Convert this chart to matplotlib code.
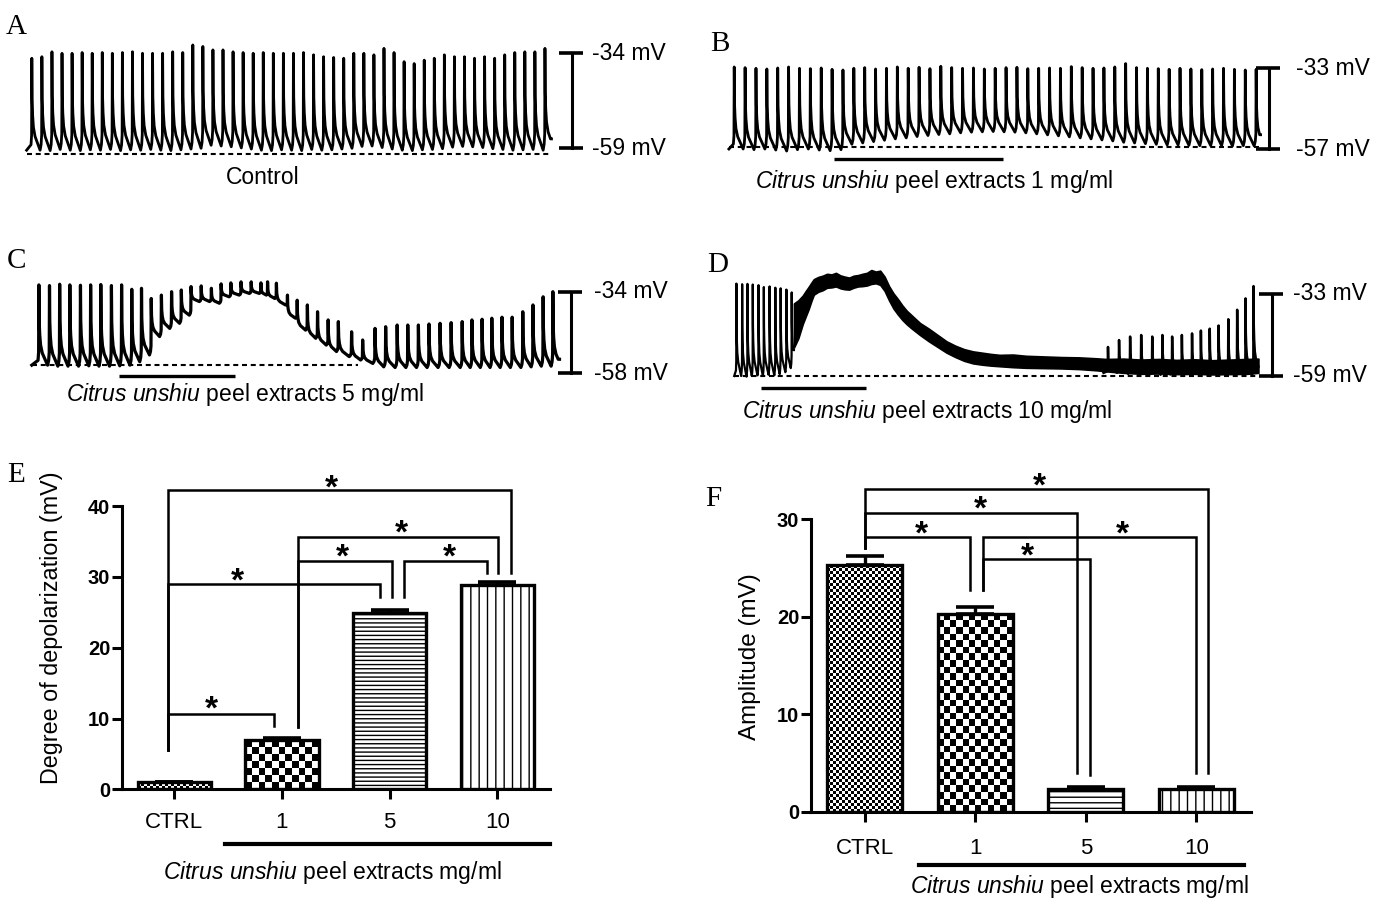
import numpy as np
import matplotlib
matplotlib.use('Agg')
import matplotlib.pyplot as plt
import matplotlib.transforms as mtransforms
from matplotlib.lines import Line2D

plt.rcParams['font.family'] = ['Liberation Sans', 'DejaVu Sans']
plt.rcParams['mathtext.fontset'] = 'custom'
plt.rcParams['mathtext.rm'] = 'Liberation Sans'
plt.rcParams['mathtext.it'] = 'Liberation Sans:italic'
plt.rcParams['hatch.linewidth'] = 1.0

# ---------------- trace data (mV) ----------------
# A: control, one value per spike (spikes evenly spaced)
a_peaks = [-35.3, -34.9, -33.6, -34.0, -34.0, -33.8, -34.0, -33.8, -34.0, -33.8,
           -33.6, -34.0, -34.0, -34.0, -33.6, -33.8, -31.8, -32.2, -33.1, -33.1,
           -33.6, -33.8, -34.0, -33.8, -34.0, -34.0, -34.0, -33.8, -34.4, -34.9,
           -35.1, -35.3, -34.0, -34.0, -34.4, -32.7, -33.8, -36.2, -36.7, -35.8,
           -35.3, -34.4, -34.9, -34.9, -35.3, -34.9, -35.3, -34.4, -33.8, -33.6,
           -33.6, -32.7]
a_troughs = [-59.5, -59.6, -59.3, -59.5, -59.6, -59.4, -59.5, -59.3, -59.6, -59.4,
             -59.5, -59.3, -59.5, -59.6, -59.4, -59.2, -59.0, -58.2, -58.4, -58.6,
             -58.9, -59.2, -59.5, -59.6, -59.4, -59.5, -59.6, -59.3, -59.5, -59.4,
             -59.2, -59.0, -58.5, -58.4, -58.8, -59.2, -59.5, -59.6, -59.4, -59.3,
             -59.1, -58.7, -58.5, -58.6, -58.8, -59.1, -59.3, -59.5, -59.4, -59.3,
             -59.5, -58.6]
a_base = -60.5

# B: 1 mg/ml
b_peaks = [-32.6, -32.8, -33.0, -33.2, -32.9, -32.6, -33.0, -33.1, -32.9, -33.3,
           -33.5, -33.0, -32.8, -33.2, -33.0, -32.6, -33.0, -32.7, -33.1, -32.4,
           -32.8, -33.0, -32.9, -33.2, -33.0, -32.8, -32.7, -33.1, -33.0, -32.9,
           -33.0, -32.5, -32.8, -33.0, -32.9, -32.6, -31.6, -32.8, -33.0, -33.1,
           -33.3, -33.0, -33.2, -33.4, -33.2, -33.0, -33.3, -33.5, -33.3]
b_troughs = [-57.0, -57.2, -57.0, -57.3, -57.6, -57.2, -57.0, -57.3, -57.5, -57.2,
             -55.6, -55.2, -54.8, -54.4, -54.0, -53.7, -53.3, -53.0, -52.7, -52.5,
             -52.2, -52.0, -51.9, -51.8, -51.9, -52.0, -52.2, -52.5, -52.8, -53.1,
             -53.4, -53.7, -54.0, -54.3, -54.6, -55.0, -55.2, -55.4, -55.6, -55.8,
             -55.8, -55.9, -56.0, -56.0, -56.0, -56.1, -56.0, -56.1, -56.2]
b_base = -56.55
b_drug = (9.2, 24.7)

# C: 5 mg/ml (time in s)
c_times = [1.6, 4.0, 6.3, 8.6, 11.0, 13.3, 15.6, 18.0, 20.3, 22.6,
           24.8, 27.0, 29.3, 31.6, 33.8, 36.0, 38.3, 40.6, 42.8, 45.0,
           47.3, 49.6, 51.8, 53.3, 55.3, 57.8, 60.0, 62.3, 64.6, 67.0,
           69.3, 72.3, 74.8, 77.6, 80.0, 82.6, 85.0, 87.4, 89.8, 92.3,
           94.8, 97.3, 99.5, 101.8, 104.0, 106.3, 108.6, 111.0, 113.3, 115.6,
           117.8]
c_peaks = [-32.0, -32.2, -31.8, -32.0, -32.1, -32.0, -31.9, -32.2, -32.0, -33.3,
           -33.0, -36.0, -35.0, -34.0, -33.5, -32.5, -32.3, -33.0, -31.7, -31.4,
           -31.1, -31.1, -31.4, -31.1, -31.5, -35.0, -36.5, -37.9, -39.9, -42.3,
           -42.8, -45.8, -48.2, -44.8, -44.3, -43.8, -43.8, -43.8, -43.5, -43.3,
           -43.1, -42.8, -42.3, -42.1, -41.8, -41.5, -41.5, -39.9, -37.9, -35.5,
           -34.0]
c_troughs = [-55.6, -55.9, -55.9, -55.9, -55.8, -55.9, -55.9, -55.8, -55.6, -54.6,
             -52.6, -47.2, -44.8, -43.3, -40.9, -36.9, -36.9, -37.4, -35.5, -35.0,
             -34.5, -34.5, -35.0, -36.0, -37.9, -41.8, -45.3, -47.7, -49.7, -51.6,
             -53.1, -54.1, -55.1, -56.1, -56.3, -56.3, -56.3, -56.3, -56.3, -56.3,
             -56.3, -56.3, -56.3, -56.3, -56.3, -56.3, -56.3, -56.1, -55.9, -55.9,
             -55.6]
c_end = 119.3
c_base = -55.56
c_base_end = 73.7
c_drug = (19.8, 46.0)

# D: 10 mg/ml (time in s)
d_early_times = [0.5, 1.8, 3.0, 4.2, 5.5, 6.7, 8.0, 9.3, 10.5, 11.8, 13.0]
d_early_peaks = [-29.7, -29.9, -29.8, -30.0, -30.2, -30.8, -30.6, -31.0, -31.2, -31.6, -32.5]
d_early_troughs = [-59.0, -59.2, -59.0, -58.8, -59.0, -58.6, -58.8, -58.4, -57.8, -56.5, -54.0]
d_band_t = [13.5, 14.5, 15.5, 16.2, 16.8, 17.5, 18.0, 19.0, 20.0, 21.0,
            22.0, 23.0, 24.0, 25.0, 26.0, 27.0, 28.0, 29.0, 30.0, 31.0,
            32.0, 33.0, 34.0, 35.0, 36.0, 37.0, 38.0, 39.0, 40.0, 42.0,
            44.0, 46.0, 48.0, 50.0, 52.0, 54.0, 56.0, 58.0, 60.0, 63.0,
            66.0, 70.0, 74.0, 78.0, 82.0, 84.0, 88.0, 92.0, 96.0, 100.0,
            104.0, 108.0, 112.0, 116.0, 118.5]
d_band_hi = [-36.0, -35.0, -33.5, -32.0, -30.8, -29.3, -28.3, -27.6, -27.2, -26.6,
             -26.8, -26.3, -27.1, -27.5, -27.8, -27.2, -27.0, -26.6, -26.3, -25.4,
             -25.9, -25.6, -27.5, -30.5, -32.8, -34.6, -36.6, -38.3, -39.6, -42.2,
             -44.0, -46.0, -48.0, -49.4, -50.5, -51.2, -51.6, -52.0, -52.3, -52.2,
             -52.6, -52.8, -53.0, -53.1, -53.4, -53.6, -53.5, -53.8, -53.6, -53.9,
             -53.7, -54.0, -53.8, -53.6, -53.5]
d_band_lo = [-50.0, -47.0, -42.5, -40.0, -37.9, -35.0, -33.2, -32.3, -31.8, -31.0,
             -30.9, -30.6, -31.2, -31.5, -31.6, -31.0, -30.6, -30.5, -30.3, -29.8,
             -29.6, -30.1, -32.0, -35.0, -37.6, -39.5, -41.2, -42.6, -43.8, -46.0,
             -48.0, -49.8, -51.6, -53.0, -54.2, -55.0, -55.4, -55.7, -55.9, -56.2,
             -56.4, -56.5, -56.6, -56.8, -57.2, -57.5, -58.0, -58.3, -58.2, -58.4,
             -58.3, -58.5, -58.4, -58.3, -58.0]
d_late_times = [84.5, 87.0, 89.5, 92.0, 94.5, 96.8, 99.0, 101.2, 103.5, 105.5,
                107.5, 109.5, 111.7, 113.7, 115.6, 117.4]
d_late_peaks = [-49.8, -47.6, -46.5, -46.0, -46.5, -46.0, -46.5, -46.0, -45.5, -44.6,
                -44.0, -43.0, -41.0, -38.0, -34.4, -30.5]
d_late_troughs = [-58.0, -58.3, -58.5, -58.4, -58.6, -58.5, -58.3, -58.6, -58.5, -58.4,
                  -58.6, -58.5, -58.7, -58.5, -58.6, -58.2]
d_end = 118.5
d_base = -58.9
d_drug = (6.0, 29.8)

# ---------------- bar data ----------------
groups = ['CTRL', '1', '5', '10']
depol_mean = [1.0, 6.9, 24.85, 28.85]
depol_sem = [0.05, 0.4, 0.55, 0.4]
amp_mean = [25.3, 20.3, 2.3, 2.3]
amp_sem = [0.9, 0.75, 0.2, 0.2]

# significance brackets: x_left, x_right, y, left drop, right drop, star x, star y
e_brackets = [(-0.06, 3.13, 42.3, 5.55, 30.5, 1.46, 43.9),
              (-0.06, 1.91, 28.97, 5.55, 27.2, 0.59, 30.75),
              (-0.06, 0.93, 10.64, 5.55, 8.94, 0.35, 12.6),
              (1.146, 3.01, 35.6, 8.85, 30.5, 2.11, 37.5),
              (1.146, 2.026, 32.26, 8.85, 27.2, 1.56, 34.05),
              (2.13, 2.906, 32.26, 27.2, 30.5, 2.56, 34.05)]
f_brackets = [(0.0, 3.104, 33.12, 27.03, 3.93, 1.58, 34.38),
              (0.0, 1.918, 30.62, 27.03, 3.93, 1.05, 31.99),
              (0.0, 0.949, 28.22, 27.03, 22.75, 0.51, 29.42),
              (1.066, 3.0, 28.22, 22.75, 3.93, 2.33, 29.42),
              (1.066, 2.035, 25.9, 22.75, 3.76, 1.47, 27.2)]

W, H = 1380, 909
TXT = 16.5
fig = plt.figure(figsize=(W / 100, H / 100), dpi=100)


def box(x0, x1, ytop, ybot):
    return [x0 / W, 1 - ybot / H, (x1 - x0) / W, (ybot - ytop) / H]


def ftext(x, y, s, **kw):
    return fig.text(x / W, 1 - y / H, s, **kw)


# shape of one action potential: (fraction of cycle, fraction of height)
PRE = [(-0.08, 0.06), (-0.025, 0.16)]
POST = [(0.03, 0.55), (0.08, 0.38), (0.16, 0.25), (0.32, 0.15), (0.55, 0.08), (0.82, 0.0)]


def spike_line(times, peaks, troughs, t_start, t_end):
    times = np.asarray(times, float)
    gaps = np.diff(times)
    before = np.concatenate([[gaps[0]], gaps])
    after = np.concatenate([gaps, [gaps[-1]]])
    xs, ys = [t_start], [troughs[0]]
    prev = troughs[0]
    for t, p, f, gb, ga in zip(times, peaks, troughs, before, after):
        for ph, fr in PRE:
            xs.append(t + ph * gb)
            ys.append(prev + fr * (p - prev))
        xs.append(t)
        ys.append(p)
        for ph, fr in POST:
            xs.append(t + ph * ga)
            ys.append(f + fr * (p - f))
        prev = f
    xs, ys = np.array(xs), np.array(ys)
    keep = (xs >= t_start) & (xs <= t_end)
    xs, ys = xs[keep], ys[keep]
    if xs[-1] < t_end:
        xs = np.append(xs, t_end)
        ys = np.append(ys, ys[-1])
    return xs, ys


def trace_axes(bx, xlim, ylim, bar_x, lab_x, base, base_to=None, drug=None, drug_y=None):
    ax = fig.add_axes(box(*bx))
    ax.set_xlim(*xlim)
    ax.set_ylim(*ylim)
    ax.set_axis_off()
    ax.plot([xlim[0], base_to if base_to is not None else xlim[1]], [base, base],
            color='black', lw=1.5, dashes=(2.4, 1.8), clip_on=False)
    tr = mtransforms.blended_transform_factory(fig.transFigure, ax.transData)
    ax.plot([bar_x / W] * 2, [ylim[0], ylim[1]], color='black', lw=2.2,
            transform=tr, clip_on=False)
    for v in ylim:
        ax.plot([(bar_x - 13) / W, (bar_x + 11) / W], [v, v], color='black',
                lw=2.6, transform=tr, clip_on=False, solid_capstyle='butt')
        ax.text(lab_x / W, v, f'{v:d} mV', transform=tr, ha='left', va='center',
                fontsize=TXT)
    if drug is not None:
        tr2 = mtransforms.blended_transform_factory(ax.transData, fig.transFigure)
        ax.plot(list(drug), [1 - drug_y / H] * 2, color='black', lw=2.4,
                transform=tr2, clip_on=False, solid_capstyle='butt')
    return ax


# ---- A ----
ax = trace_axes((26.6, 551.5, 53.3, 148.3), (-0.52, 51.65), (-59, -34), 571.7, 592, a_base)
x, y = spike_line(np.arange(len(a_peaks)), a_peaks, a_troughs, -0.52, 51.65)
ax.plot(x, y, color='black', lw=2.0, clip_on=False)

# ---- B ----
ax = trace_axes((728.9, 1260.6, 68.3, 149), (-0.49, 48.41), (-57, -33), 1269.4, 1296, b_base,
                drug=b_drug, drug_y=158.8)
x, y = spike_line(np.arange(len(b_peaks)), b_peaks, b_troughs, -0.49, 48.41)
ax.plot(x, y, color='black', lw=2.0, clip_on=False)

# ---- C ----
ax = trace_axes((31.8, 559.5, 291.7, 373.3), (0, c_end), (-58, -34), 570.6, 594, c_base,
                base_to=c_base_end, drug=c_drug, drug_y=375.7)
x, y = spike_line(c_times, c_peaks, c_troughs, 0, c_end)
ax.plot(x, y, color='black', lw=2.3, clip_on=False)

# ---- D ----
ax = trace_axes((734.2, 1258.4, 294, 376), (0, d_end), (-59, -33), 1271.7, 1293, d_base,
                drug=d_drug, drug_y=388)
x, y = spike_line(d_early_times, d_early_peaks, d_early_troughs, 0, d_band_t[0])
ax.plot(x, y, color='black', lw=1.6, clip_on=False)
ax.fill_between(d_band_t, d_band_lo, d_band_hi, color='black', lw=1.2, clip_on=False)
x, y = spike_line(d_late_times, d_late_peaks, d_late_troughs, d_late_times[0] - 1.0, d_end)
ax.plot(x, y, color='black', lw=1.8, clip_on=False)

# trace captions
ftext(263, 178, 'Control', ha='center', va='center', fontsize=TXT)
ftext(934, 181.5, r'$\mathit{Citrus\ unshiu}$ peel extracts 1 mg/ml', ha='center', va='center', fontsize=TXT)
ftext(245, 395, r'$\mathit{Citrus\ unshiu}$ peel extracts 5 mg/ml', ha='center', va='center', fontsize=TXT)
ftext(927, 411, r'$\mathit{Citrus\ unshiu}$ peel extracts 10 mg/ml', ha='center', va='center', fontsize=TXT)

# panel letters
for lab, (px, py) in zip('ABCDEF', [(16, 27), (720, 44), (16, 261), (718, 265), (16, 475), (713, 499)]):
    ftext(px, py, lab, ha='center', va='center', fontsize=21, family='Liberation Serif')


# ---------------- bar panels ----------------
def checker(ax, bar, sq_px):
    pos = ax.get_position()
    ppx = pos.width * W / np.diff(ax.get_xlim())[0]
    ppy = pos.height * H / np.diff(ax.get_ylim())[0]
    x0, w, h = bar.get_x(), bar.get_width(), bar.get_height()
    nx = max(1, int(round(w * ppx / sq_px)))
    ny = max(1, int(round(h * ppy / sq_px)))
    grid = np.indices((ny, nx)).sum(axis=0) % 2
    m = ax.pcolormesh(np.linspace(x0, x0 + w, nx + 1), np.linspace(0, h, ny + 1), grid,
                      cmap='gray', shading='flat', antialiased=False, edgecolors='none', zorder=2)
    m.set_clip_path(bar)
    bar.set_facecolor('none')


def bar_panel(bx, ylim, yticks, means, sems, styles, brackets, tick_pad):
    ax = fig.add_axes(box(*bx))
    x = np.arange(len(groups))
    ax.set_xlim(-0.485, 3.49)
    ax.set_ylim(*ylim)
    ax.set_autoscale_on(False)
    bars = ax.bar(x, means, width=0.68, color='white', edgecolor='black', lw=2.4, zorder=3)
    ax.errorbar(x, means, yerr=[np.zeros(len(sems)), sems], fmt='none', ecolor='black',
                elinewidth=2.4, capsize=13.5, capthick=2.6, zorder=2.5)
    for b, st in zip(bars, styles):
        if st[0] == 'check':
            checker(ax, b, st[1])
        else:
            b.set_hatch(st[1])
    ax.set_yticks(yticks)
    ax.set_xticks(x)
    ax.set_xticklabels(groups, fontsize=16)
    for t in ax.get_yticklabels():
        t.set_fontweight('bold')
        t.set_fontsize(14.5)
    for s in ('top', 'right'):
        ax.spines[s].set_visible(False)
    for s in ('left', 'bottom'):
        ax.spines[s].set_linewidth(2.2)
    ax.tick_params(axis='both', width=2.2, length=7, direction='out')
    ax.tick_params(axis='y', pad=1.5)
    ax.tick_params(axis='x', pad=tick_pad)
    for xl, xr, yb, dl, dr, sx, sy in brackets:
        ax.plot([xl, xl, xr, xr], [dl, yb, yb, dr], color='black', lw=1.8,
                clip_on=False, zorder=4, solid_joinstyle='miter')
        ax.annotate('*', xy=(sx, sy), xytext=(0, -13.5), textcoords='offset points',
                    ha='center', va='baseline', fontsize=24, fontweight='bold',
                    annotation_clip=False)
    return ax


# E
bar_panel((122, 550, 506.2, 789.3), (0, 40), [0, 10, 20, 30, 40], depol_mean, depol_sem,
          [('check', 3.0), ('check', 6.7), ('hatch', '----'), ('hatch', '||')],
          e_brackets, 9)
fig.text(52 / W, 1 - 628 / H, 'Degree of depolarization (mV)', rotation=90,
         ha='center', va='center', fontsize=16.8)
fig.add_artist(Line2D([225 / W, 550 / W], [1 - 844.3 / H] * 2, color='black', lw=3.0))
ftext(332, 873, r'$\mathit{Citrus\ unshiu}$ peel extracts mg/ml', ha='center', va='center', fontsize=TXT)

# F
bar_panel((811, 1250.6, 519.3, 811.7), (0, 30), [0, 10, 20, 30], amp_mean, amp_sem,
          [('check', 3.0), ('check', 6.5), ('hatch', '---'), ('hatch', '||')],
          f_brackets, 12)
fig.text(750 / W, 1 - 657 / H, 'Amplitude (mV)', rotation=90,
         ha='center', va='center', fontsize=17.5)
fig.add_artist(Line2D([918.7 / W, 1244 / W], [1 - 865 / H] * 2, color='black', lw=3.0))
ftext(1079, 886.5, r'$\mathit{Citrus\ unshiu}$ peel extracts mg/ml', ha='center', va='center', fontsize=TXT)

fig.savefig('out.png', dpi=100)
